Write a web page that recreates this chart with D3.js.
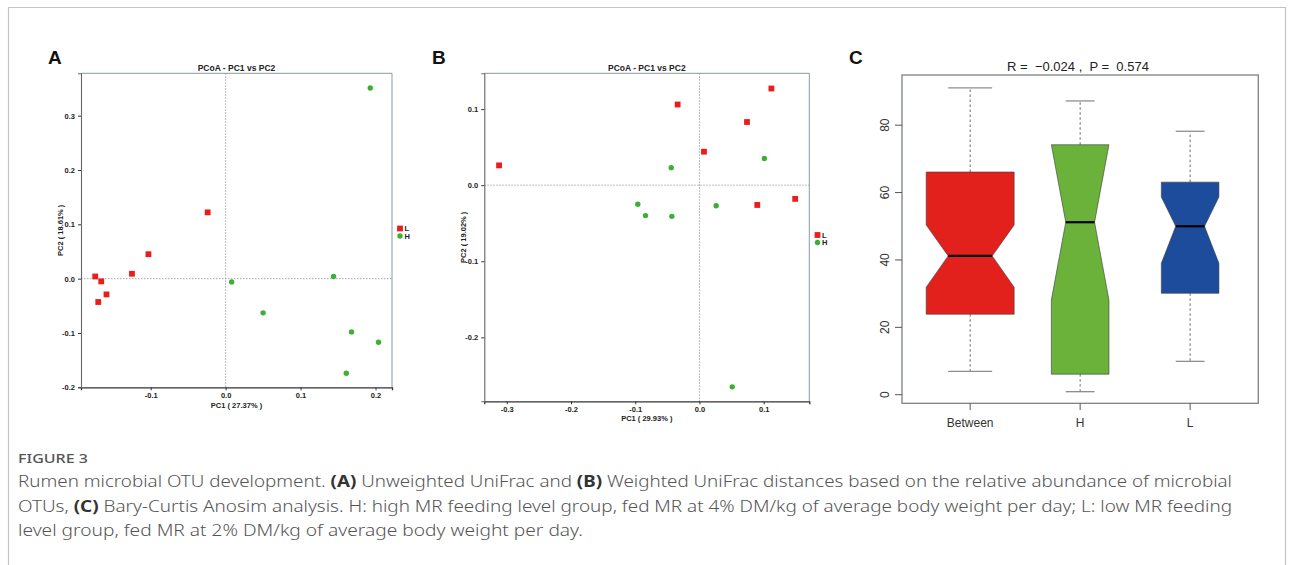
<!DOCTYPE html>
<html>
<head>
<meta charset="utf-8">
<script src="https://cdn.jsdelivr.net/npm/d3@7"></script>
<style>
  body { margin: 0; background: #fff; }
  svg { display: block; }
  .tk text { font-family: "Liberation Sans", Arial, sans-serif; font-weight: bold; font-size: 7.5px; fill: #222; }
</style>
</head>
<body>
<div id="fig"></div>
<script>
// ---- data ----
// panel A : unweighted UniFrac PCoA
const aL_pc1 = [-0.024, -0.103, -0.125, -0.174, -0.166, -0.159, -0.170];
const aL_pc2 = [0.122, 0.045, 0.009, 0.004, -0.005, -0.029, -0.043];
const aH_pc1 = [0.193, 0.008, 0.050, 0.144, 0.168, 0.204, 0.161];
const aH_pc2 = [0.351, -0.006, -0.063, 0.004, -0.098, -0.117, -0.174];
const aXTicks = [-0.1, 0.0, 0.1, 0.2];
const aYTicks = [-0.2, -0.1, 0.0, 0.1, 0.2, 0.3];

// panel B : weighted UniFrac PCoA
const bL_pc1 = [-0.312, -0.034, 0.007, 0.074, 0.112, 0.090, 0.149];
const bL_pc2 = [0.026, 0.106, 0.044, 0.083, 0.127, -0.026, -0.018];
const bH_pc1 = [-0.044, 0.101, -0.096, -0.084, -0.043, 0.026, 0.051];
const bH_pc2 = [0.023, 0.035, -0.025, -0.040, -0.041, -0.027, -0.265];
const bXTicks = [-0.3, -0.2, -0.1, 0.0, 0.1];
const bYTicks = [-0.2, -0.1, 0.0, 0.1];

// panel C : Anosim boxplot
const groups = ["Between", "H", "L"];
const groupN = [49, 21, 21];
const whiskLo = [6.9, 0.9, 9.9];
const q1 = [23.9, 6.1, 30.1];
const notchLo = [31.9, 28.1, 39.0];
const med = [41.2, 51.2, 50.0];
const notchHi = [50.4, 74.2, 58.7];
const q3 = [66.1, 74.2, 63.1];
const whiskHi = [91.1, 87.2, 78.2];
const cYTicks = [0, 20, 40, 60, 80];
const groupColors = ["#e3211c", "#6bb23a", "#1d4c9c"];

const seriesNames = ["L", "H"];

const W = 1295, H = 565;
const svg = d3.select("#fig").append("svg").attr("width", W).attr("height", H);

// outer frame of the figure
svg.append("path")
  .attr("d", `M8.5,${H} V7.5 H1285.5 V${H}`)
  .attr("fill", "none").attr("stroke", "#c4c4c4").attr("stroke-width", 1.2);

const fmt = d => d3.format(".1f")(d).replace("−", "-");

function pcoa(opt) {
  const x = d3.scaleLinear().domain(opt.xDom).range(opt.xRange);
  const y = d3.scaleLinear().domain(opt.yDom).range(opt.yRange);
  const g = svg.append("g");
  const [x0, x1] = opt.xRange, [y1, y0] = opt.yRange;

  // dotted zero lines
  g.append("line").attr("x1", x(0)).attr("x2", x(0)).attr("y1", y0).attr("y2", y1)
    .attr("stroke", "#8a9499").attr("stroke-width", 0.8).attr("stroke-dasharray", "1.5,1.5");
  g.append("line").attr("x1", x0).attr("x2", x1).attr("y1", y(0)).attr("y2", y(0))
    .attr("stroke", "#8a9499").attr("stroke-width", 0.8).attr("stroke-dasharray", "1.5,1.5");

  // frame
  g.append("path").attr("d", `M${x0},${y0} H${x1} V${y1}`)
    .attr("fill", "none").attr("stroke", "#8c9aa2").attr("stroke-width", 1);

  g.append("g").attr("class", "tk").attr("transform", `translate(0,${y1})`)
    .call(d3.axisBottom(x).tickValues(opt.xTicks).tickFormat(fmt).tickSize(3).tickPadding(2))
    .call(a => a.select(".domain").attr("stroke", "#333").attr("stroke-width", 1.3))
    .call(a => a.selectAll(".tick line").attr("stroke", "#333"));
  g.append("g").attr("class", "tk").attr("transform", `translate(${x0},0)`)
    .call(d3.axisLeft(y).tickValues(opt.yTicks).tickFormat(fmt).tickSize(3).tickPadding(3))
    .call(a => a.select(".domain").attr("stroke", "#666").attr("stroke-width", 1.1))
    .call(a => a.selectAll(".tick line").attr("stroke", "#333"));

  // points
  g.selectAll(".sq").data(d3.zip(opt.L1, opt.L2)).join("rect")
    .attr("x", d => x(d[0]) - 2.9).attr("y", d => y(d[1]) - 2.9)
    .attr("width", 5.8).attr("height", 5.8).attr("fill", "#ec1c1c");
  g.selectAll(".ci").data(d3.zip(opt.H1, opt.H2)).join("circle")
    .attr("cx", d => x(d[0])).attr("cy", d => y(d[1])).attr("r", 2.7).attr("fill", "#3cb034");

  // title and axis labels
  g.append("text").attr("x", (x0 + x1) / 2).attr("y", y0 - 2)
    .attr("text-anchor", "middle").attr("font-family", "Liberation Sans, Arial, sans-serif")
    .attr("font-weight", "bold").attr("font-size", 8.5).attr("fill", "#222")
    .text("PCoA - PC1 vs PC2");
  g.append("text").attr("x", (x0 + x1) / 2).attr("y", opt.xLabY)
    .attr("text-anchor", "middle").attr("font-family", "Liberation Sans, Arial, sans-serif")
    .attr("font-weight", "bold").attr("font-size", 7.5).attr("fill", "#222")
    .text(opt.xLab);
  g.append("text").attr("transform", `translate(${opt.yLabX},${(y0 + y1) / 2}) rotate(-90)`)
    .attr("text-anchor", "middle").attr("font-family", "Liberation Sans, Arial, sans-serif")
    .attr("font-weight", "bold").attr("font-size", 7.5).attr("fill", "#222")
    .text(opt.yLab);

  // legend
  const lg = g.append("g").attr("transform", `translate(${opt.legX},${opt.legY})`);
  lg.append("rect").attr("x", -2.9).attr("y", -2.9).attr("width", 5.8).attr("height", 5.8).attr("fill", "#ec1c1c");
  lg.append("circle").attr("cx", 0).attr("cy", 7.5).attr("r", 2.7).attr("fill", "#3cb034");
  lg.selectAll("text").data(seriesNames).join("text")
    .attr("x", 4.5).attr("y", (d, i) => i * 7.5 + 2.6)
    .attr("font-family", "Liberation Sans, Arial, sans-serif").attr("font-weight", "bold")
    .attr("font-size", 7.5).attr("fill", "#222").text(d => d);

  // panel letter
  svg.append("text").attr("x", opt.letX).attr("y", 64)
    .attr("font-family", "Liberation Sans, Arial, sans-serif").attr("font-weight", "bold")
    .attr("font-size", 19).attr("fill", "#111").text(opt.letter);
}

pcoa({
  xDom: [-0.193, 0.222], xRange: [81, 392],
  yDom: [-0.2, 0.378], yRange: [387.3, 73.3],
  xTicks: aXTicks, yTicks: aYTicks,
  L1: aL_pc1, L2: aL_pc2, H1: aH_pc1, H2: aH_pc2,
  xLab: "PC1 ( 27.37% )", yLab: "PC2 ( 18.61% )", xLabY: 407.5, yLabX: 63,
  legX: 400, legY: 228.5, letter: "A", letX: 48
});
pcoa({
  xDom: [-0.335, 0.171], xRange: [484.3, 809.3],
  yDom: [-0.284, 0.147], yRange: [401.3, 73.3],
  xTicks: bXTicks, yTicks: bYTicks,
  L1: bL_pc1, L2: bL_pc2, H1: bH_pc1, H2: bH_pc2,
  xLab: "PC1 ( 29.93% )", yLab: "PC2 ( 19.02% )", xLabY: 421, yLabX: 466,
  legX: 817.5, legY: 235, letter: "B", letX: 432
});

// ---- panel C : notched boxplot ----
{
  const x = d3.scaleLinear().domain([0.38, 3.62]).range([902, 1258.3]);
  const y = d3.scaleLinear().domain([-2.55, 94.9]).range([403.3, 75]);
  const g = svg.append("g");
  const maxN = d3.max(groupN);
  const unit = x(1) - x(0);
  const font = "Liberation Sans, Arial, sans-serif";

  groups.forEach((name, i) => {
    const cx = x(i + 1);
    const hw = 0.4 * unit * Math.sqrt(groupN[i]) / Math.sqrt(maxN);
    const nw = hw / 2;
    // whiskers
    g.append("line").attr("x1", cx).attr("x2", cx).attr("y1", y(q3[i])).attr("y2", y(whiskHi[i]))
      .attr("stroke", "#4d5d6a").attr("stroke-width", 0.9).attr("stroke-dasharray", "2.5,2.5");
    g.append("line").attr("x1", cx).attr("x2", cx).attr("y1", y(q1[i])).attr("y2", y(whiskLo[i]))
      .attr("stroke", "#4d5d6a").attr("stroke-width", 0.9).attr("stroke-dasharray", "2.5,2.5");
    [whiskHi[i], whiskLo[i]].forEach(v => {
      g.append("line").attr("x1", cx - nw).attr("x2", cx + nw).attr("y1", y(v)).attr("y2", y(v))
        .attr("stroke", "#8e8e8e").attr("stroke-width", 1.3);
    });
    // notched box
    const pts = [
      [cx - hw, y(q3[i])], [cx + hw, y(q3[i])], [cx + hw, y(notchHi[i])],
      [cx + nw, y(med[i])], [cx + hw, y(notchLo[i])], [cx + hw, y(q1[i])],
      [cx - hw, y(q1[i])], [cx - hw, y(notchLo[i])], [cx - nw, y(med[i])],
      [cx - hw, y(notchHi[i])]
    ];
    g.append("path").attr("d", d3.line()(pts) + "Z")
      .attr("fill", groupColors[i]).attr("stroke", "#3a3a3a").attr("stroke-width", 0.6);
    g.append("line").attr("x1", cx - nw).attr("x2", cx + nw).attr("y1", y(med[i])).attr("y2", y(med[i]))
      .attr("stroke", "#000").attr("stroke-width", 2.2);
  });

  // frame
  g.append("rect").attr("x", 902).attr("y", 75).attr("width", 1258.3 - 902).attr("height", 403.3 - 75)
    .attr("fill", "none").attr("stroke", "#7b8286").attr("stroke-width", 1.3);

  // y axis
  cYTicks.forEach(t => {
    g.append("line").attr("x1", 895).attr("x2", 902).attr("y1", y(t)).attr("y2", y(t))
      .attr("stroke", "#555").attr("stroke-width", 1);
    g.append("text").attr("transform", `translate(889,${y(t)}) rotate(-90)`)
      .attr("text-anchor", "middle").attr("font-family", font).attr("font-size", 12).attr("fill", "#333")
      .text(t);
  });
  // x axis
  groups.forEach((name, i) => {
    g.append("line").attr("x1", x(i + 1)).attr("x2", x(i + 1)).attr("y1", 403.3).attr("y2", 410)
      .attr("stroke", "#555").attr("stroke-width", 1);
    g.append("text").attr("x", x(i + 1)).attr("y", 427)
      .attr("text-anchor", "middle").attr("font-family", font).attr("font-size", 12).attr("fill", "#333")
      .text(name);
  });
  g.append("text").attr("x", 1078).attr("y", 71)
    .attr("text-anchor", "middle").attr("font-family", font).attr("font-size", 13).attr("fill", "#222")
    .attr("xml:space", "preserve")
    .text("R =  \u22120.024 ,  P =  0.574");
  svg.append("text").attr("x", 849).attr("y", 64)
    .attr("font-family", font).attr("font-weight", "bold").attr("font-size", 19).attr("fill", "#111").text("C");
}

// ---- caption ----
const capFont = "Noto Sans, Open Sans, sans-serif";
svg.append("text").attr("x", 18).attr("y", 463).attr("font-family", capFont)
  .attr("font-size", 12).attr("font-weight", 500).attr("fill", "#555")
  .attr("textLength", 70).attr("lengthAdjust", "spacingAndGlyphs").text("FIGURE 3");

const capLines = [
  [["Rumen microbial OTU development. ", 0], ["(A)", 1], [" Unweighted UniFrac and ", 0], ["(B)", 1],
   [" Weighted UniFrac distances based on the relative abundance of microbial", 0]],
  [["OTUs, ", 0], ["(C)", 1], [" Bary-Curtis Anosim analysis. H: high MR feeding level group, fed MR at 4% DM/kg of average body weight per day; L: low MR feeding", 0]],
  [["level group, fed MR at 2% DM/kg of average body weight per day.", 0]]
];
const capWidths = [1214, 1214, 565];
capLines.forEach((parts, i) => {
  const t = svg.append("text").attr("x", 18).attr("y", 487 + i * 24.5)
    .attr("font-family", capFont).attr("font-size", 16).attr("font-weight", 300).attr("fill", "#555")
    .attr("xml:space", "preserve");
  parts.forEach(p => {
    t.append("tspan").text(p[0]).attr("font-weight", p[1] ? "bold" : null).attr("fill", p[1] ? "#333" : null);
  });
  t.attr("textLength", capWidths[i]).attr("lengthAdjust", "spacingAndGlyphs");
});
</script>
</body>
</html>
